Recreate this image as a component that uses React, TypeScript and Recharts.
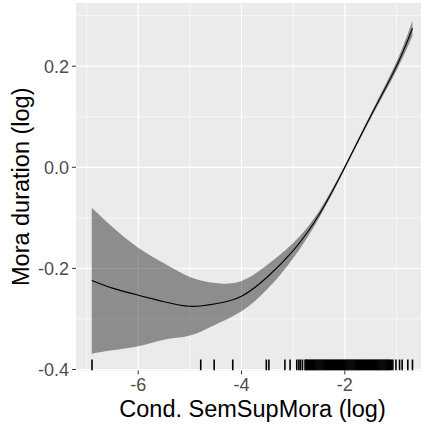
import { ComposedChart, XAxis, YAxis, CartesianGrid, Area, Line, Scatter, Label } from 'recharts'

// smooth fit of mora duration against conditional semantic support (both log)
const xs = [-6.9, -6.5, -6.0, -5.5, -5.0, -4.5, -4.0, -3.5, -3.0, -2.5, -2.0, -1.5, -1.0, -0.69]
const fit = [-0.224, -0.239, -0.253, -0.266, -0.275, -0.27, -0.255, -0.217, -0.165, -0.094, 0.0, 0.101, 0.2, 0.275]
const lower = [-0.369, -0.362, -0.354, -0.341, -0.333, -0.311, -0.285, -0.241, -0.18, -0.101, -0.004, 0.096, 0.191, 0.26]
const upper = [-0.08, -0.118, -0.159, -0.19, -0.217, -0.229, -0.225, -0.193, -0.15, -0.087, 0.004, 0.106, 0.209, 0.29]

// observed x values shown as a rug
const rugX = [
  -6.895, -4.79, -4.53, -4.17, -3.52, -3.47, -3.16, -3.06, -2.93, -2.89, -2.86, -2.82,
  -2.77, -2.75, -2.74, -2.72, -2.7, -2.68, -2.66, -2.64, -2.62, -2.6, -2.58, -2.56, -2.54, -2.52,
  -2.5, -2.48, -2.46, -2.44, -2.42, -2.4, -2.38, -2.36, -2.34, -2.32, -2.3, -2.28, -2.26, -2.24,
  -2.22, -2.2, -2.18, -2.16, -2.14, -2.12, -2.1, -2.08, -2.06, -2.04, -2.02, -2.0, -1.98, -1.96,
  -1.94, -1.92, -1.9, -1.88, -1.86, -1.84, -1.82, -1.8, -1.78, -1.76, -1.74, -1.72, -1.7, -1.68,
  -1.66, -1.64, -1.62, -1.6, -1.58, -1.56, -1.54, -1.52, -1.5, -1.48, -1.46, -1.44, -1.42, -1.4,
  -1.38, -1.36, -1.34, -1.32, -1.3, -1.28, -1.26, -1.24, -1.22, -1.2, -1.18, -1.16, -1.14, -1.12,
  -1.1, -1.07, -1.01, -0.94, -0.89, -0.78, -0.69,
]

const xTicks = [-6, -4, -2]
const yTicks = [-0.4, -0.2, 0, 0.2]
const xMinor = [-7, -5, -3, -1]
const yMinor = [-0.3, -0.1, 0.1, 0.3]

const X_DOMAIN: [number, number] = [-7.205, -0.37]
const Y_DOMAIN: [number, number] = [-0.402, 0.325]

const curve = xs.map((x, i) => ({ x, fit: fit[i], band: [lower[i], upper[i]] }))
const rug = rugX.map((x) => ({ x, y: Y_DOMAIN[0] }))

const FONT = '"Liberation Sans", Arial, Helvetica, sans-serif'

const RugTick = (props: any) => {
  const { cx, cy } = props
  return <line x1={cx} x2={cx} y1={cy} y2={cy - 11} stroke="#000" strokeWidth={1.6} />
}

const YTitle = ({ viewBox }: any) => {
  const cy = viewBox.y + viewBox.height / 2
  return (
    <text x={28.5} y={cy} transform={`rotate(-90, 28.5, ${cy})`} textAnchor="middle" fontSize={23.5} fill="#000" fontFamily={FONT}>
      Mora duration (log)
    </text>
  )
}

const XTitle = ({ viewBox }: any) => (
  <text x={viewBox.x + viewBox.width / 2} y={viewBox.y + 46.5} textAnchor="middle" fontSize={23.5} fill="#000" fontFamily={FONT}>
    Cond. SemSupMora (log)
  </text>
)

export default function App() {
  const tickStyle = { fill: '#4d4d4d', fontSize: 18, fontFamily: FONT }
  return (
    <div style={{ position: 'fixed', left: 0, top: 0, width: 421, height: 425, overflow: 'hidden', background: '#fff' }}>
      <ComposedChart width={432} height={425} margin={{ top: 3, right: 3, bottom: 0, left: 0 }}>
        <CartesianGrid fill="#ebebeb" stroke="#fff" strokeWidth={0.6} horizontalValues={yMinor} verticalValues={xMinor} />
        <CartesianGrid stroke="#fff" strokeWidth={1.2} horizontalValues={yTicks} verticalValues={xTicks} />
        <XAxis
          type="number"
          dataKey="x"
          domain={X_DOMAIN}
          ticks={xTicks}
          allowDataOverflow
          height={54.5}
          axisLine={false}
          tickLine={{ stroke: '#333333' }}
          tickSize={4}
          tickMargin={4}
          tick={tickStyle}
        >
          <Label content={<XTitle />} />
        </XAxis>
        <YAxis
          type="number"
          domain={Y_DOMAIN}
          ticks={yTicks}
          allowDataOverflow
          width={76}
          axisLine={false}
          tickLine={{ stroke: '#333333' }}
          tickSize={4}
          tickMargin={3}
          tick={tickStyle}
          tickFormatter={(v: number) => v.toFixed(1)}
        >
          <Label content={<YTitle />} />
        </YAxis>
        <Area data={curve} dataKey="band" type="natural" stroke="none" fill="#000" fillOpacity={0.4} isAnimationActive={false} />
        <Line data={curve} dataKey="fit" type="natural" stroke="#000" strokeWidth={1.1} dot={false} isAnimationActive={false} />
        <Scatter data={rug} dataKey="y" shape={<RugTick />} isAnimationActive={false} />
      </ComposedChart>
    </div>
  )
}
